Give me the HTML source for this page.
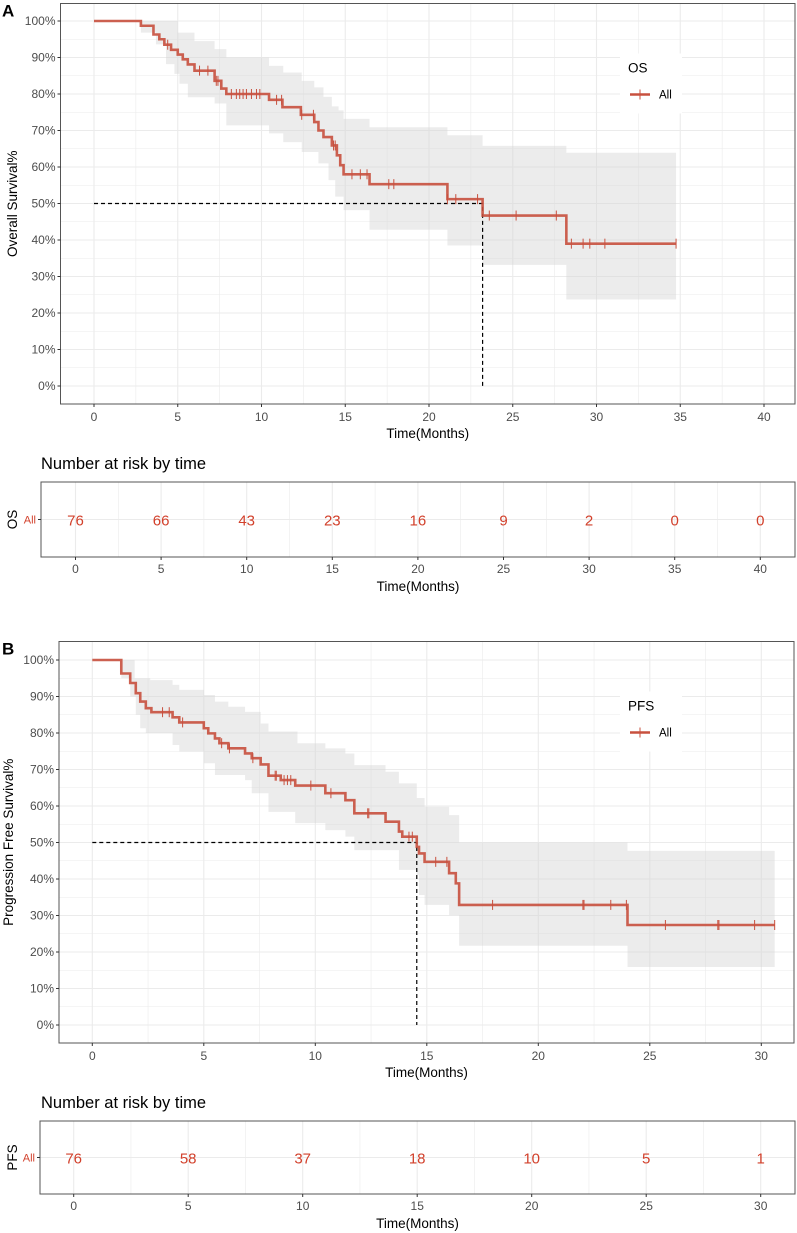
<!DOCTYPE html>
<html><head><meta charset="utf-8"><style>
body{margin:0;background:#fff;}
svg{display:block;font-family:"Liberation Sans",Arial,sans-serif;}
</style></head><body>
<svg id="fig" width="797" height="1233" viewBox="0 0 797 1233" xmlns="http://www.w3.org/2000/svg"></svg>
<script>
// ---- Panel A (OS) data ----
const osStepTimes = [0,2.8,3.55,3.9,4.2,4.6,5.0,5.3,5.6,6.0,7.2,7.6,7.9,10.45,11.25,12.35,13.15,13.4,13.7,14.2,14.5,14.7,14.9,16.45,21.1,23.2,28.2];
const osStepSurv  = [100,98.7,96.3,95,93.5,92.1,90.8,89.5,88.1,86.4,83.6,81.5,80.0,78.4,76.4,74.3,72.3,70.0,68.2,65.9,63.2,60.5,58.0,55.3,51.2,46.7,39.0];
const osEnd = 34.75;
const osCensor = [4.4,6.3,6.8,7.3,7.4,8.2,8.5,8.7,8.9,9.1,9.4,9.7,9.9,10.9,11.2,12.4,13.1,14.3,14.4,15.4,15.9,16.3,17.6,17.9,21.1,21.6,22.9,23.6,25.2,27.6,28.5,29.2,29.6,30.5,34.75];
const osBandTimes = [2.8,3.7,4.3,4.5,4.8,5.0,5.1,5.6,6.0,7.2,7.9,10.45,11.3,12.4,13.15,13.4,13.7,14.0,14.2,14.4,14.6,14.9,16.45,21.1,23.2,28.2];
const osBandUpper = [100,100,100,100,100,96.8,96.8,96.8,94.5,92.3,90,87.7,85.9,83.6,81.8,81.8,79.2,79.2,76.6,76.6,75.5,73.2,70.9,68.7,65.8,63.9];
const osBandLower = [96.8,93.6,88.2,88.2,85.5,85.5,82.8,79.1,79.1,77.4,71.4,69.2,66.8,64.1,64.1,61,61,56.4,56.4,51.9,51.9,48.2,42.8,38.5,33.2,23.7];
const osMedian = 23.2;
const osRiskTimes = [0,5,10,15,20,25,30,35,40];
const osRiskCounts = [76,66,43,23,16,9,2,0,0];
const osXTicks = [0,5,10,15,20,25,30,35,40];
// ---- Panel B (PFS) data ----
const pfsStepTimes = [0,1.3,1.7,1.95,2.15,2.4,2.65,3.6,3.9,5.0,5.2,5.5,5.7,6.1,6.85,7.15,7.55,7.9,8.45,9.1,10.45,11.35,11.75,13.15,13.75,13.9,14.55,14.65,14.9,16.0,16.3,16.45,24.0];
const pfsStepSurv  = [100,96.3,93.7,90.9,88.6,86.8,85.7,84.3,82.9,81.3,79.9,78.5,77.2,75.8,74.4,73.1,71.4,68.3,67.1,65.6,63.5,61.6,58.0,55.7,53.0,51.6,48.8,47.0,44.7,41.6,38.8,32.9,27.4];
const pfsEnd = 30.6;
const pfsCensor = [3.15,3.45,4.05,5.8,6.15,7.2,8.2,8.25,8.6,8.75,8.9,9.8,10.7,12.35,12.4,14.2,14.35,15.4,15.9,17.95,22.0,22.05,23.25,23.95,25.7,28.05,28.1,29.7,30.6];
const pfsBandTimes = [1.3,1.7,1.9,1.95,2.15,2.4,2.6,3.6,3.9,5.0,5.5,6.1,6.85,7.15,7.55,7.9,9.1,9.2,10.45,11.35,11.75,13.15,13.75,14.55,14.65,14.9,16.0,16.45,24.0];
const pfsBandUpper = [100,100,95,95,95,95,94.5,93.2,91.8,90.4,88.6,87.2,85.8,85.8,82.6,80.4,80.4,77.2,75.8,74.4,71.2,69.4,66.2,62.2,62.2,59.8,57.5,50.0,47.7];
const pfsBandLower = [95,90,90,85,81.3,80,80,76.7,74.9,71.7,68.5,68.5,67.1,63.5,63.5,58.4,55.3,55.3,53.4,51.6,47.9,47.9,42.5,41.1,35.6,32.9,30.1,21.7,15.9];
const pfsMedian = 14.55;
const pfsRiskTimes = [0,5,10,15,20,25,30];
const pfsRiskCounts = [76,58,37,18,10,5,1];
const pfsXTicks = [0,5,10,15,20,25,30];
const yTicks = [0,10,20,30,40,50,60,70,80,90,100];

const NS='http://www.w3.org/2000/svg';
const svg=document.getElementById('fig');
function el(tag,attrs,parent,text){const e=document.createElementNS(NS,tag);for(const k in attrs)e.setAttribute(k,attrs[k]);if(text!==undefined)e.textContent=text;(parent||svg).appendChild(e);return e;}
const RED='#c8503e';

function panel(o){
  const g=el('g',{});
  
  
  const X=t=>o.x0+t*o.xs, Y=p=>o.y0-p*o.ys;
  const xmin=(o.left-o.x0)/o.xs, xmax=(o.right-o.x0)/o.xs;
  for(let t=Math.ceil(xmin/2.5)*2.5;t<=xmax;t+=2.5){
    const major=Math.abs(t/5-Math.round(t/5))<1e-6;
    el('line',{x1:X(t),x2:X(t),y1:o.top,y2:o.bottom,stroke:'#ebebeb','stroke-width':major?1.1:0.6},g);
  }
  for(let p=0;p<=105;p+=5){const y=Y(p);if(y<o.top||y>o.bottom)continue;
    el('line',{x1:o.left,x2:o.right,y1:y,y2:y,stroke:'#ebebeb','stroke-width':p%10===0?1.1:0.6},g);}
  let d='';const n=o.bT.length;
  for(let i=0;i<n;i++){const t2=i<n-1?o.bT[i+1]:o.end;d+=(i?'L':'M')+X(o.bT[i])+','+Y(o.bU[i])+'L'+X(t2)+','+Y(o.bU[i]);}
  for(let i=n-1;i>=0;i--){const t2=i<n-1?o.bT[i+1]:o.end;d+='L'+X(t2)+','+Y(o.bL[i])+'L'+X(o.bT[i])+','+Y(o.bL[i]);}
  const band=el('path',{d:d+'Z',fill:'#d4d4d4','fill-opacity':0.45},g);
  
  
  const med=el('path',{d:`M${X(0)},${Y(50)}L${X(o.med)},${Y(50)}L${X(o.med)},${Y(0)}`,fill:'none',stroke:'#000','stroke-width':1.2,'stroke-dasharray':'4,3'},g);
  
  
  let c='';
  for(let i=0;i<o.sT.length;i++){const t2=i<o.sT.length-1?o.sT[i+1]:o.end;c+=(i?'L':'M')+X(o.sT[i])+','+Y(o.sS[i])+'L'+X(t2)+','+Y(o.sS[i]);}
  const curve=el('path',{d:c,fill:'none',stroke:RED,'stroke-width':2.6,'stroke-opacity':0.9},g);
  
  
  const survAt=t=>{let s=o.sS[0];for(let i=0;i<o.sT.length;i++)if(o.sT[i]<=t)s=o.sS[i];return s;};
  o.cen.forEach(t=>{const m=el('line',{x1:X(t),x2:X(t),y1:Y(survAt(t))-5,y2:Y(survAt(t))+5,stroke:RED,'stroke-width':1},g);
    });
  el('rect',{x:o.left,y:o.top,width:o.right-o.left,height:o.bottom-o.top,fill:'none',stroke:'#555','stroke-width':1},g);
  yTicks.forEach(p=>{el('line',{x1:o.left-3,x2:o.left,y1:Y(p),y2:Y(p),stroke:'#333'},g);
    el('text',{x:o.left-5,y:Y(p)+4,'text-anchor':'end','font-size':12,fill:'#4d4d4d'},g,p+'%');});
  o.xt.forEach(t=>{el('line',{x1:X(t),x2:X(t),y1:o.bottom,y2:o.bottom+3,stroke:'#333'},g);
    el('text',{x:X(t),y:o.bottom+17,'text-anchor':'middle','font-size':12,fill:'#4d4d4d'},g,t);});
  const xt=el('text',{x:(o.left+o.right)/2,y:o.bottom+34,'text-anchor':'middle','font-size':13.5,fill:'#000'},g,'Time(Months)');
  
  const yt=el('text',{x:0,y:0,transform:`translate(${o.ytx},${(o.top+o.bottom)/2}) rotate(-90)`,'text-anchor':'middle','font-size':13.5,fill:'#000'},g,o.ylab);
  
  el('text',{x:2,y:o.top+13,'font-size':17,'font-weight':'bold',fill:'#000'},g,o.letter);
  const lg=el('g',{},g);
  el('rect',{x:620,y:o.top+50,width:62,height:60,fill:'#fff'},lg);
  el('text',{x:628,y:o.top+69,'font-size':13.5,fill:'#000'},lg,o.legend);
  el('line',{x1:630,x2:650,y1:o.top+91,y2:o.top+91,stroke:RED,'stroke-width':2.4},lg);
  el('line',{x1:640,x2:640,y1:o.top+86,y2:o.top+96,stroke:RED,'stroke-width':1},lg);
  el('text',{x:659,y:o.top+95,'font-size':11.5,fill:'#000'},lg,'All');
  const r=o.risk;const R=t=>r.x0+t*r.xs;
  const rg=el('g',{},g);
  el('text',{x:41,y:r.top-13,'font-size':16.5,fill:'#000'},rg,'Number at risk by time');
  for(let t=-2.5;t<=o.xt[o.xt.length-1]+2.5;t+=2.5){if(R(t)<r.left||R(t)>795)continue;
    el('line',{x1:R(t),x2:R(t),y1:r.top,y2:r.bottom,stroke:'#ebebeb','stroke-width':t%5===0?1.1:0.6},rg);}
  const mid=(r.top+r.bottom)/2;
  el('line',{x1:r.left,x2:795,y1:mid,y2:mid,stroke:'#ebebeb','stroke-width':1.1},rg);
  el('rect',{x:r.left,y:r.top,width:795-r.left,height:r.bottom-r.top,fill:'none',stroke:'#555'},rg);
  o.rT.forEach((t,i)=>{el('text',{x:R(t),y:mid+6,'text-anchor':'middle','font-size':15,fill:'#d2402b'},rg,o.rC[i]);});
  o.xt.forEach(t=>{el('line',{x1:R(t),x2:R(t),y1:r.bottom,y2:r.bottom+3,stroke:'#333'},rg);
    el('text',{x:R(t),y:r.bottom+16,'text-anchor':'middle','font-size':12,fill:'#4d4d4d'},rg,t);});
  el('line',{x1:r.left-3,x2:r.left,y1:mid,y2:mid,stroke:'#333'},rg);
  el('text',{x:r.left-5,y:mid+4,'text-anchor':'end','font-size':11,fill:'#d2402b'},rg,'All');
  el('text',{x:0,y:0,transform:`translate(17,${mid}) rotate(-90)`,'text-anchor':'middle','font-size':13.5,fill:'#000'},rg,o.legend);
  el('text',{x:(r.left+795)/2,y:r.bottom+34,'text-anchor':'middle','font-size':13.5,fill:'#000'},rg,'Time(Months)');
}
panel({name:'os',letter:'A',legend:'OS',ylab:'Overall Survival%',left:60.5,right:795,top:3.5,bottom:404,x0:94,xs:16.75,y0:386,ys:3.65,ytx:17,
  sT:osStepTimes,sS:osStepSurv,end:osEnd,cen:osCensor,bT:osBandTimes,bU:osBandUpper,bL:osBandLower,med:osMedian,xt:osXTicks,rT:osRiskTimes,rC:osRiskCounts,
  risk:{left:41,top:482,bottom:557,x0:75.5,xs:17.12}});
panel({name:'pfs',letter:'B',legend:'PFS',ylab:'Progression Free Survival%',left:59,right:794,top:641.5,bottom:1043,x0:92.3,xs:22.3,y0:1025,ys:3.65,ytx:13,
  sT:pfsStepTimes,sS:pfsStepSurv,end:pfsEnd,cen:pfsCensor,bT:pfsBandTimes,bU:pfsBandUpper,bL:pfsBandLower,med:pfsMedian,xt:pfsXTicks,rT:pfsRiskTimes,rC:pfsRiskCounts,
  risk:{left:40,top:1121,bottom:1194,x0:73.7,xs:22.9}});
</script>
</body></html>
